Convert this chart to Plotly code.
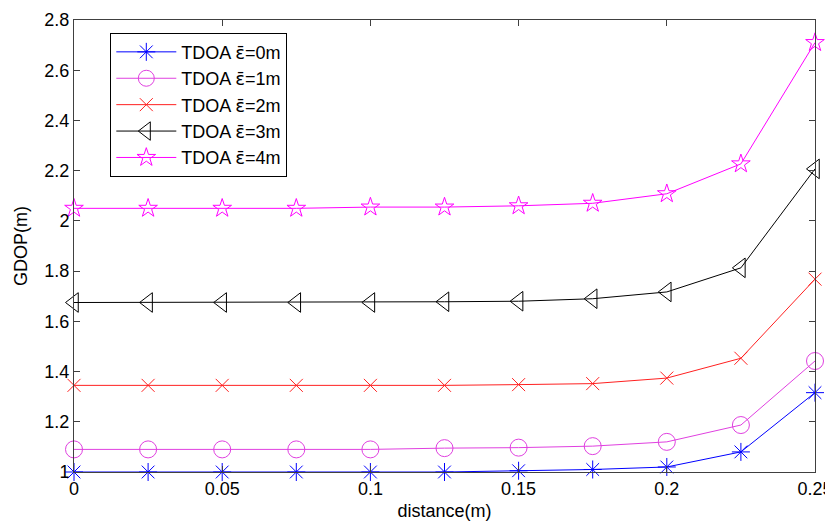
import plotly.graph_objects as go

distance = [0, 0.025, 0.05, 0.075, 0.1, 0.125, 0.15, 0.175, 0.2, 0.225, 0.25]
gdop_e0 = [1.0, 1.0, 1.0, 1.0, 1.0, 1.0, 1.005, 1.01, 1.02, 1.08, 1.316]
gdop_e1 = [1.09, 1.09, 1.09, 1.09, 1.09, 1.095, 1.097, 1.103, 1.12, 1.187, 1.442]
gdop_e2 = [1.345, 1.345, 1.345, 1.345, 1.345, 1.345, 1.348, 1.352, 1.374, 1.453, 1.768]
gdop_e3 = [1.675, 1.675, 1.675, 1.675, 1.675, 1.678, 1.68, 1.69, 1.717, 1.813, 2.207]
gdop_e4 = [2.05, 2.05, 2.05, 2.05, 2.055, 2.055, 2.06, 2.07, 2.108, 2.227, 2.71]

eps = '<span style="font-family:DejaVu Sans">ε̄</span>'
names = [f"TDOA {eps}=0m", f"TDOA {eps}=1m", f"TDOA {eps}=2m", f"TDOA {eps}=3m", f"TDOA {eps}=4m"]
series = [gdop_e0, gdop_e1, gdop_e2, gdop_e3, gdop_e4]
colors = ["#0000FF", "#E040E0", "#FF2020", "#000000", "#FF00FF"]
symbols = ["asterisk-open", "circle-open", "x-thin-open", "triangle-left-open", "star-open"]
sizes = [15, 17, 13, 17, 14]

fig = go.Figure()
for n, s, c, sym, sz in zip(names, series, colors, symbols, sizes):
    fig.add_trace(go.Scatter(
        x=distance, y=s, name=n, mode="lines+markers", cliponaxis=False,
        line=dict(color=c, width=1),
        marker=dict(symbol=sym, size=sz, color=c, line=dict(color=c, width=1)),
    ))

axis_common = dict(
    showgrid=False, zeroline=False, showline=True, linecolor="#404040", linewidth=1,
    mirror="ticks", ticks="inside", ticklen=6, tickcolor="#404040", automargin=False,
    tickfont=dict(family="Liberation Sans, Arial", size=18, color="#000000"),
)

fig.update_layout(
    width=825, height=513,
    margin=dict(l=66, r=18, t=12, b=49),
    paper_bgcolor="white", plot_bgcolor="white",
    font=dict(family="Liberation Sans, Arial", size=18, color="#000000"),
    xaxis=dict(range=[0, 0.25], tickvals=[0, 0.05, 0.1, 0.15, 0.2, 0.25],
               ticktext=["0", "0.05", "0.1", "0.15", "0.2", "0.25"],
               title=dict(text="distance(m)", font=dict(size=18), standoff=6), **axis_common),
    yaxis=dict(range=[1, 2.8], tickvals=[1, 1.2, 1.4, 1.6, 1.8, 2, 2.2, 2.4, 2.6, 2.8],
               ticktext=["1", "1.2", "1.4", "1.6", "1.8", "2", "2.2", "2.4", "2.6", "2.8"],
               title=dict(text="GDOP(m)", font=dict(size=18), standoff=12), **axis_common),
    legend=dict(x=0.049, y=0.972, xanchor="left", yanchor="top",
                bordercolor="#000000", borderwidth=1, bgcolor="white",
                font=dict(size=18), tracegroupgap=0, itemwidth=60),
    showlegend=True,
)

fig.write_html("out.html")
